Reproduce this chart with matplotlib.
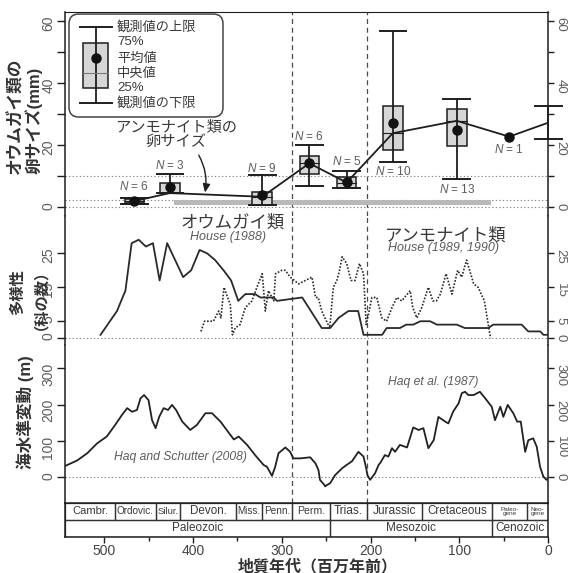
import matplotlib.pyplot as plt
from matplotlib.patches import Rectangle, FancyBboxPatch

plt.rcParams['font.family'] = ['Liberation Sans', 'Noto Sans CJK JP']
plt.rcParams['mathtext.fontset'] = 'custom'
plt.rcParams['mathtext.rm'] = 'Liberation Sans'
plt.rcParams['mathtext.it'] = 'Liberation Sans:italic'

# nautiloid egg size (mm) per time bin, ages in Ma
egg_age = [466, 426, 322, 269, 227, 175, 103]
egg_low = [1.0, 4.5, 0.7, 7.0, 6.1, 14.7, 9.0]
egg_q1 = [1.3, 4.5, 0.7, 10.7, 6.3, 18.5, 19.8]
egg_median = [2.0, 4.6, 3.4, 14.2, 8.0, 23.9, 27.9]
egg_q3 = [2.6, 8.0, 4.8, 16.6, 9.9, 32.8, 31.6]
egg_high = [3.0, 10.9, 10.4, 20.1, 11.7, 56.9, 34.8]
egg_mean = [2.0, 6.6, 4.0, 14.2, 8.1, 27.3, 24.9]
egg_n = [6, 3, 9, 6, 5, 10, 13]

# one Paleogene specimen and the living Nautilus range
single_age, single_size = 44, 22.8
modern_age, modern_low, modern_median, modern_high = 0, 22.0, 27.3, 32.7

# ammonite egg size band
amm_egg_ages = [421, 64]
amm_egg_low, amm_egg_high = 0.7, 2.5

# family diversity, House (1988) nautiloids
naut_age = [504, 485.5, 476, 469, 461, 453, 445, 437.5, 429, 411, 402, 392.5, 384, 375,
            365.5, 357, 349, 341, 330, 324, 309, 305.5, 277, 255, 245.5, 236, 225, 214,
            208, 187, 182, 167, 160, 152, 144, 133, 125.5, 103, 94, 67.5, 62, 30, 22.5,
            9, 5.5, 0]
naut_fam = [1, 8, 14, 28, 29, 27, 28, 17, 28, 18, 20, 26, 25, 23, 20, 17, 11, 13, 13, 12,
            12, 11, 12, 3, 3, 6, 8, 8, 1, 1, 3, 3, 4, 4, 5, 5, 4, 4, 3, 3, 4, 4, 2, 2, 1, 1]

# family diversity, House (1989, 1990) ammonoids
amm_age = [391, 387, 382, 377, 371, 368.5, 365, 361, 358, 355.5, 352.5, 347, 341, 333.5,
           328, 322, 318.5, 315, 309, 307, 300, 296, 290.5, 281, 273.5, 266, 262, 259,
           255, 246, 242, 238, 235, 232, 227, 222, 217.5, 212.5, 208, 205, 202.5, 198.5,
           193, 187.5, 182, 176, 170.5, 165, 155.5, 152.5, 148, 142.5, 135, 130, 126,
           121.5, 115, 108.5, 102, 97.5, 92, 84, 79, 72, 65]
amm_fam = [2, 5, 5, 5, 8, 6, 15, 12, 10, 1, 3, 4, 9, 11, 15, 19, 8, 14, 11, 19, 20, 20,
           18, 16, 17, 18, 12, 12, 8, 3, 15, 17, 20, 24, 22, 17, 17, 22, 19, 4, 7, 12,
           12, 6, 5, 9, 12, 11, 14, 9, 6, 9, 15, 11, 11, 13, 19, 13, 20, 18, 23, 16, 15,
           11, 0]

# sea level (m), Haq and Schutter (2008) for the Paleozoic
pz_age = [544, 530.5, 519, 508, 497, 487.5, 480, 474, 468.5, 463, 459, 455, 450, 446,
          442, 438, 433, 428, 423.5, 419, 412, 403, 395.5, 386, 378.5, 369, 362, 354,
          348.5, 339, 330, 320.5, 316.7, 311, 307.4, 303.7, 296, 290.5, 287, 279, 268,
          262, 258.7, 257, 251]
pz_sea = [31, 46, 66, 93, 112, 144, 171, 190, 180, 185, 217, 226, 212, 157, 135, 166,
          190, 185, 199, 185, 153, 130, 144, 176, 176, 153, 130, 104, 112, 89, 61, 34,
          29, 4, 29, 66, 82, 70, 52, 52, 55, 38, 20, -7, -24]
# sea level (m), Haq et al. (1987) for the Mesozoic-Cenozoic
mz_age = [251, 245.5, 240, 232, 227, 221, 213.7, 208, 205, 203.6, 200.6, 195, 191, 189,
          184, 180, 176, 172.5, 167, 159, 152, 146, 140.6, 135, 129, 123.7, 116, 112.5,
          107, 101, 97.4, 93.7, 90, 84, 77, 71, 63.7, 60, 54, 50.6, 45.7, 39.4, 35, 31,
          26, 22.5, 17, 13, 9.3, 5.6, 2, 0]
mz_sea = [-24, -16, 6, 25, 34, 44, 70, 57, 25, 6, -7, 11, 34, 40, 61, 57, 80, 70, 89, 82,
          137, 130, 135, 80, 102, 166, 153, 148, 181, 203, 231, 235, 226, 226, 235, 217,
          194, 157, 194, 166, 199, 176, 153, 153, 70, 102, 107, 84, 29, 2, -7, -3]

# geologic time scale
period_names = ['Cambr.', 'Ordovic.', 'Silur.', 'Devon.', 'Miss.', 'Penn.', 'Perm.',
                'Trias.', 'Jurassic', 'Cretaceous', 'Paleo-\ngene', 'Neo-\ngene']
period_start = [544, 488, 442, 414, 352, 322, 288, 246, 204, 142, 63, 24]
period_end = [488, 442, 414, 352, 322, 288, 246, 204, 142, 63, 24, 0]
period_fs = [8, 7.2, 6.8, 8.4, 7.1, 7.2, 7.6, 8.6, 8.6, 8.4, 4.6, 4.6]
era_names = ['Paleozoic', 'Mesozoic', 'Cenozoic']
era_start = [544, 246, 63]
era_end = [246, 63, 0]
event_ages = [288, 204]

INK = '#1e1e1e'
TXT = '#3a3a3a'
SOFT = '#5c5c5c'

fig = plt.figure(figsize=(5.68, 5.73), dpi=100)


def panel(top_px, bot_px):
    return fig.add_axes([65 / 568, (573 - bot_px) / 573, 483.3 / 568, (bot_px - top_px) / 573])


ax_egg = panel(12, 216)
ax_div = panel(216, 345)
ax_sea = panel(345, 503)
ax_ts = panel(503, 536.7)


def style_panel(ax, ylim, ticks, labels, top=False):
    ax.set_xlim(544, 0)
    ax.set_ylim(*ylim)
    for side in ['left', 'right']:
        ax.spines[side].set_color(INK)
        ax.spines[side].set_linewidth(1.1)
    ax.spines['top'].set_visible(top)
    ax.spines['top'].set_color(INK)
    ax.spines['bottom'].set_visible(False)
    ax.tick_params(axis='x', bottom=False, labelbottom=False)
    ax.set_yticks(ticks)
    ax.set_yticklabels(labels)
    ax.tick_params(axis='y', direction='out', length=6, width=1, color=INK, pad=1,
                   labelsize=10, labelcolor=SOFT, labelrotation=90)
    tw = ax.twinx()
    tw.set_ylim(*ylim)
    for s in tw.spines.values():
        s.set_visible(False)
    tw.set_yticks(ticks)
    tw.set_yticklabels(labels)
    tw.tick_params(axis='y', direction='out', length=4, width=1, color=INK, pad=0.5,
                   labelsize=9.5, labelcolor=SOFT, labelrotation=-90)
    ax.axhline(ticks[0], color='#8a8a8a', lw=0.8, ls=(0, (1.2, 2)), zorder=0)
    for x in event_ages:
        ax.axvline(x, color='#4a4a4a', lw=0.9, ls=(0, (4, 3)), zorder=1)


# ---------- egg size panel ----------
style_panel(ax_egg, (-2.8, 63), list(range(0, 61, 10)),
            ['0', '', '20', '', '40', '', '60'], top=True)
for y in [2.5, 10]:
    ax_egg.axhline(y, color='#8a8a8a', lw=0.8, ls=(0, (1.2, 2)), zorder=0)

ax_egg.fill_between(amm_egg_ages, amm_egg_low, amm_egg_high, color='#b9b9b9', lw=0, zorder=1)

cap_hw, box_hw = 15, 11
for age, lo, q1, med, q3, hi, mean in zip(egg_age, egg_low, egg_q1, egg_median,
                                          egg_q3, egg_high, egg_mean):
    ax_egg.add_patch(Rectangle((age - box_hw, q1), 2 * box_hw, q3 - q1,
                               facecolor='#d6d6d6', edgecolor='none', zorder=3))
    ax_egg.plot([age, age], [lo, hi], color=INK, lw=1.3, zorder=4)
    for y in (lo, hi):
        ax_egg.plot([age - cap_hw, age + cap_hw], [y, y], color=INK, lw=1.4, zorder=4)
    ax_egg.add_patch(Rectangle((age - box_hw, q1), 2 * box_hw, q3 - q1, fill=False,
                               edgecolor=INK, lw=1.1, zorder=4))
    ax_egg.plot([age - box_hw, age + box_hw], [med, med], color=INK, lw=0.8, zorder=4)
    ax_egg.plot(age, mean, 'o', ms=6.5, color='#111111', zorder=6)

# modern range drawn over the right frame
ax_egg.plot([modern_age, modern_age], [modern_low, modern_high], color=INK, lw=1.3,
            zorder=4, clip_on=False)
for y in (modern_low, modern_high):
    ax_egg.plot([modern_age - cap_hw, modern_age + cap_hw], [y, y], color=INK, lw=1.4,
                zorder=4, clip_on=False)
ax_egg.plot(single_age, single_size, 'o', ms=6.5, color='#111111', zorder=6)

ax_egg.plot(egg_age + [single_age, modern_age], egg_median + [single_size, modern_median],
            color=INK, lw=1.3, zorder=5)

n_offsets = [8, 5.5, 5, 6, 7, -7, -7]
for age, lo, hi, n, off in zip(egg_age, egg_low, egg_high, egg_n, n_offsets):
    ax_egg.annotate(f'$N$ = {n}', (age, hi if off > 0 else lo), xytext=(0, off),
                    textcoords='offset points', ha='center', va='center',
                    fontsize=8.5, color=SOFT)
ax_egg.annotate('$N$ = 1', (single_age, single_size), xytext=(0, -9.5),
                textcoords='offset points', ha='center', va='center', fontsize=8.5,
                color=SOFT)

ax_egg.text(419, 23.5, 'アンモナイト類の\n卵サイズ', ha='center', va='center',
            fontsize=11, color=TXT, linespacing=1.0)
ax_egg.annotate('', xy=(387, 3.9), xytext=(395, 17.6),
                arrowprops=dict(arrowstyle='-|>,head_length=0.5,head_width=0.22',
                                color=INK, lw=1.0, connectionstyle='arc3,rad=-0.2'))

# legend key for the box plots
tr = ax_egg.transAxes
ax_egg.add_patch(FancyBboxPatch((0.0083, 0.4853), 0.3186, 0.5047,
                                boxstyle='round,pad=0,rounding_size=0.02',
                                mutation_aspect=483.3 / 204, transform=tr,
                                facecolor='white', edgecolor='#444444', lw=1.1, zorder=7))
kx, cap_w, box_w = 0.0641, 0.0331, 0.0259
k_hi, k_q3, k_mean, k_med, k_q1, k_lo = 0.9265, 0.848, 0.7745, 0.701, 0.6275, 0.5539
ax_egg.add_patch(Rectangle((kx - box_w, k_q1), 2 * box_w, k_q3 - k_q1, transform=tr,
                           facecolor='#d6d6d6', edgecolor='none', zorder=8))
ax_egg.plot([kx, kx], [k_lo, k_hi], color=INK, lw=1.3, transform=tr, zorder=9)
for y in (k_lo, k_hi):
    ax_egg.plot([kx - cap_w, kx + cap_w], [y, y], color=INK, lw=1.4, transform=tr, zorder=9)
ax_egg.add_patch(Rectangle((kx - box_w, k_q1), 2 * box_w, k_q3 - k_q1, transform=tr,
                           fill=False, edgecolor=INK, lw=1.1, zorder=9))
ax_egg.plot([kx - box_w, kx + box_w], [k_med, k_med], color='#777777', lw=0.8,
            transform=tr, zorder=9)
ax_egg.plot(kx, k_mean, 'o', ms=6.5, color='#111111', transform=tr, zorder=10)
key_text = ['観測値の上限', '75%', '平均値', '中央値', '25%', '観測値の下限']
key_y = [k_hi, 0.851, 0.771, 0.697, 0.627, k_lo]
for s, y in zip(key_text, key_y):
    ax_egg.text(0.1076, y, s, transform=tr, ha='left', va='center', fontsize=9.5,
                color=TXT, zorder=10)

# ---------- diversity panel ----------
style_panel(ax_div, (-2, 36), [0, 5, 15, 25], ['0', '5', '15', '25'])
ax_div.plot(naut_age, naut_fam, color='#2a2a2a', lw=1.3, zorder=3)
ax_div.plot(amm_age, amm_fam, color='#2a2a2a', lw=1.2, ls=(0, (1, 1)), zorder=3)
ax_div.text(355, 34.0, 'オウムガイ類', ha='center', va='center', fontsize=12.5, color=TXT)
ax_div.text(361, 29.8, 'House (1988)', ha='center', va='center', fontsize=9,
            style='italic', color=SOFT)
ax_div.text(116, 30.4, 'アンモナイト類', ha='center', va='center', fontsize=12.5, color=TXT)
ax_div.text(118, 26.6, 'House (1989, 1990)', ha='center', va='center', fontsize=9,
            style='italic', color=SOFT)

# ---------- sea level panel ----------
style_panel(ax_sea, (-70.6, 363.5), [0, 100, 200, 300], ['0', '100', '200', '300'])
ax_sea.plot(pz_age, pz_sea, color='#222222', lw=1.3, solid_joinstyle='round', zorder=3)
ax_sea.plot(mz_age, mz_sea, color='#222222', lw=1.3, solid_joinstyle='round', zorder=3)
ax_sea.text(414, 56, 'Haq and Schutter (2008)', ha='center', va='center', fontsize=8.7,
            style='italic', color=SOFT)
ax_sea.text(130, 262, 'Haq et al. (1987)', ha='center', va='center', fontsize=8.7,
            style='italic', color=SOFT)

# ---------- time scale ----------
ax_ts.set_xlim(544, 0)
ax_ts.set_ylim(0, 2)
ax_ts.set_yticks([])
for s in ax_ts.spines.values():
    s.set_color(INK)
    s.set_linewidth(1.1)
for name, a0, a1, fs in zip(period_names, period_start, period_end, period_fs):
    ax_ts.add_patch(Rectangle((a1, 1), a0 - a1, 1, fill=False, edgecolor='#333333', lw=0.9))
    ax_ts.text((a0 + a1) / 2, 1.5, name, ha='center', va='center', fontsize=fs,
               color=TXT, linespacing=0.85)
for name, a0, a1 in zip(era_names, era_start, era_end):
    ax_ts.add_patch(Rectangle((a1, 0), a0 - a1, 1, fill=False, edgecolor='#333333', lw=0.9))
    ax_ts.text((a0 + a1) / 2, 0.5, name, ha='center', va='center', fontsize=8.5, color=TXT)
ax_ts.set_xticks(range(0, 501, 100))
ax_ts.set_xticks(range(50, 500, 100), minor=True)
ax_ts.tick_params(axis='x', which='major', direction='out', length=4.5, width=1, color=INK,
                  labelsize=10, labelcolor='#444444', pad=1)
ax_ts.tick_params(axis='x', which='minor', direction='out', length=3, width=1, color=INK)

# ---------- axis titles ----------
fig.text(25 / 568, 1 - 174 / 573, 'オウムガイ類の\n卵サイズ(mm)', rotation=90, ha='center',
         va='bottom', multialignment='left', fontsize=12, fontweight='bold',
         color='#333333', linespacing=1.08)
fig.text(26 / 568, 1 - 292 / 573, '多様性\n（科の数）', rotation=90, ha='center',
         va='center', multialignment='center', fontsize=11, fontweight='bold',
         color='#333333', linespacing=1.05)
fig.text(25 / 568, 1 - 412 / 573, '海水準変動 (m)', rotation=90, ha='center', va='center',
         fontsize=12, fontweight='bold', color='#333333')
fig.text(318 / 568, 1 - 566.5 / 573, '地質年代（百万年前）', ha='center', va='center',
         fontsize=11.5, fontweight='bold', color='#333333')

fig.savefig('out.png', dpi=100)
